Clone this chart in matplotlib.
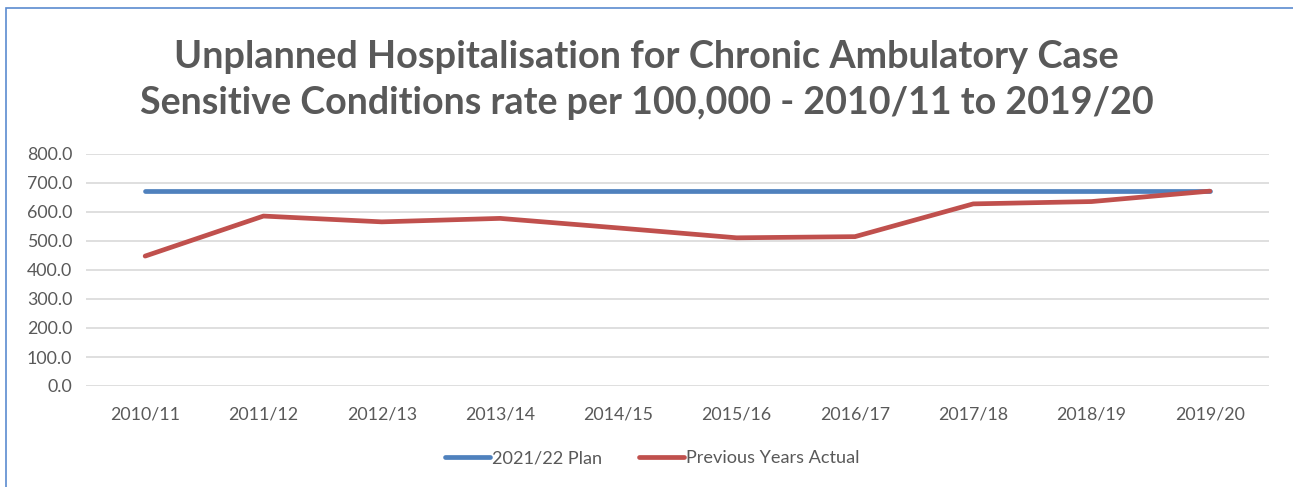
import numpy as np
import matplotlib.pyplot as plt
from matplotlib.patches import Rectangle

years = ["2010/11", "2011/12", "2012/13", "2013/14", "2014/15",
         "2015/16", "2016/17", "2017/18", "2018/19", "2019/20"]
plan = [672.0] * 10
actual = [448.0, 586.0, 566.0, 578.0, 545.0, 511.0, 515.0, 628.0, 636.0, 672.0]
yticks = [0, 100, 200, 300, 400, 500, 600, 700, 800]

plt.rcParams['font.family'] = ['Lato', 'DejaVu Sans']
text_color = '#595959'

fig = plt.figure(figsize=(12.93, 4.87), dpi=100)
ax = fig.add_axes([86 / 1293, 1 - 386 / 487, (1269 - 86) / 1293, (386 - 154) / 487])

x = np.arange(len(years))
ax.plot(x, plan, color='#4F81BD', lw=3.4, solid_capstyle='round', label='2021/22 Plan', zorder=3)
ax.plot(x, actual, color='#C0504D', lw=3.4, solid_capstyle='round', solid_joinstyle='round',
        label='Previous Years Actual', zorder=4)

ax.set_xlim(-0.5, len(years) - 0.5)
ax.set_ylim(0, 800)
ax.set_yticks(yticks)
ax.set_yticklabels([f"{v:.1f}" for v in yticks])
ax.set_xticks(x)
ax.set_xticklabels(years)
ax.tick_params(axis='both', length=0, labelsize=12.8, colors=text_color)
ax.tick_params(axis='x', pad=15)
ax.tick_params(axis='y', pad=10)
ax.grid(axis='y', color='#D9D9D9', lw=1.2)
ax.set_axisbelow(True)
for s in ax.spines.values():
    s.set_visible(False)

fig.text(0.5, 1 - 57 / 487, "Unplanned Hospitalisation for Chronic Ambulatory Case",
         ha='center', va='center', fontsize=27.3, fontweight='bold', color=text_color)
fig.text(0.5, 1 - 103 / 487, "Sensitive Conditions rate per 100,000 - 2010/11 to 2019/20",
         ha='center', va='center', fontsize=27.1, fontweight='bold', color=text_color)

fig.legend(loc='center', bbox_to_anchor=(652 / 1293, 1 - 458 / 487), ncol=2, frameon=False,
           fontsize=13.1, labelcolor=text_color, handlelength=2.5, handletextpad=0.1,
           columnspacing=2.0)

fig.patches.append(Rectangle((6 / 1293, -0.1), 1.1, 1 - 8 / 487 + 0.1, transform=fig.transFigure,
                             fill=False, edgecolor='#5B8BD0', lw=1.2))

fig.savefig('out.png', dpi=100)
